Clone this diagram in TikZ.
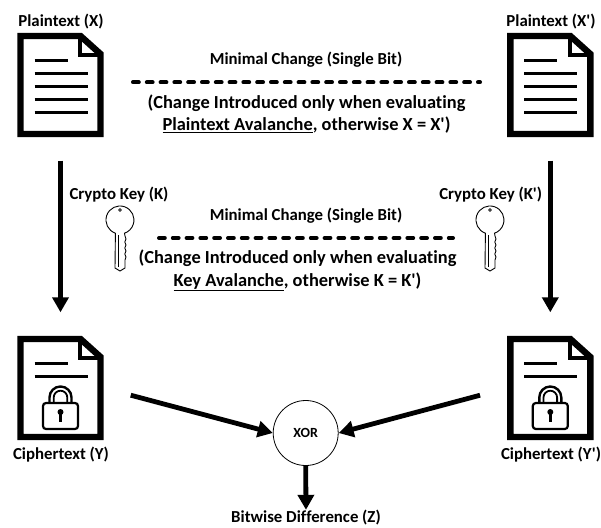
\documentclass[tikz,border=0pt]{standalone}
\usepackage{fontspec}
\setmainfont[Ligatures={TeXOff,NoCommon}]{Carlito}
\usetikzlibrary{arrows.meta}
\tikzset{
  lbl/.style={font=\bfseries\fontsize{16.8}{20}\selectfont,inner sep=0pt,align=center},
  note/.style={font=\bfseries\fontsize{18.4}{22.5}\selectfont,inner sep=0pt,align=center},
  arr/.style={line width=4.8pt,-{Triangle[length=15pt,width=16pt]}},
  dashline/.style={line width=4pt,line cap=round,dash pattern=on 5.8pt off 8pt},
  anchorbox/.style={minimum width=86pt,minimum height=105pt,inner sep=0pt},
  pics/docshell/.style={code={
    \draw[line width=6.4pt,miter limit=10,fill=white] (-40,-49) -- (20,-49) -- (40,-31) -- (40,49) -- (-40,49) -- cycle;
    \draw[line width=3.4pt] (19.5,-49) -- (19.5,-30) -- (40,-30);
    \draw[line width=3pt] (-26,-25) -- (7,-25);
    \draw[line width=3pt] (-26,-12) -- (27,-12);
  }},
  pics/plainbody/.style={code={
    \draw[line width=3pt] (-26,1) -- (27,1);
    \draw[line width=3pt] (-26,14) -- (27,14);
    \draw[line width=3pt] (-26,27.5) -- (27,27.5);
  }},
  pics/lockbody/.style={code={
    \draw[line width=2.4pt] (-11,15) -- (-11,9.5) arc[start angle=180,end angle=360,radius=11] -- (11,15);
    \draw[line width=1.8pt] (-6.8,15) -- (-6.8,9.5) arc[start angle=180,end angle=360,radius=6.8] -- (6.8,15);
    \draw[line width=2.2pt,rounded corners=3pt] (-17.5,15) rectangle (17.5,41);
    \fill (0,24) circle[radius=3];
    \fill (-1.4,25) rectangle (1.4,33.5);
  }},
  pics/cryptokey/.style={code={
    \draw[line width=0.9pt,fill=white] (-4.6,13.2) arc[start angle=109,end angle=431,radius=14]
      -- (5,16) -- (6,19) -- (4.8,22) -- (6,25) -- (4.8,28) -- (6,31) -- (4.8,34) -- (6,37) -- (5,40) -- (5,48) -- (0,51) -- (-5,48) -- cycle;
    \draw[line width=0.7pt] (-1.6,15) -- (-1.6,47);
    \draw[line width=0.8pt] (0,-10) circle[radius=1.4];
  }},
}
\begin{document}
\begin{tikzpicture}[x=1pt,y=-1pt]
\useasboundingbox (0,0) rectangle (601,527);
% document anchors
\node[anchorbox] (docX) at (60.5,85) {};
\node[anchorbox] (docXp) at (550.3,85) {};
\node[anchorbox] (docY) at (60.5,388) {};
\node[anchorbox] (docYp) at (550.3,388) {};
\pic at (60.5,85) {docshell};
\pic at (60.5,85) {plainbody};
\pic at (550.3,85) {docshell};
\pic at (550.3,85) {plainbody};
\pic at (60.5,388) {docshell};
\pic at (60.5,388) {lockbody};
\pic at (550.3,388) {docshell};
\pic at (550.3,388) {lockbody};
% labels
\node[lbl] (lx) at (61,21.5) {Plaintext (X)};
\node[lbl] (lxp) at (551,21.5) {Plaintext (X')};
\node[lbl] (ly) at (61,455) {Ciphertext (Y)};
\node[lbl] (lyp) at (551,455) {Ciphertext (Y')};
\node[lbl] (m1) at (306,60) {Minimal Change (Single Bit)};
\node[lbl] (m2) at (306,216) {Minimal Change (Single Bit)};
\node[note] (n1) at (306.5,114) {(Change Introduced only when evaluating\\\underline{Plaintext Avalanche}, otherwise X = X')};
\node[note] (n2) at (297.5,270.5) {(Change Introduced only when evaluating\\\underline{Key Avalanche}, otherwise K = K')};
\node[lbl] (kl) at (119,195) {Crypto Key (K)};
\node[lbl] (klp) at (490.7,195) {Crypto Key (K')};
% keys
\node[inner sep=0pt,minimum size=1pt] (key1) at (120,220) {};
\node[inner sep=0pt,minimum size=1pt] (key2) at (490,220) {};
\pic at (key1) {cryptokey};
\pic at (key2) {cryptokey};
% dashed
\coordinate (d1a) at (133,82.3); \coordinate (d1b) at (480,82.3);
\coordinate (d2a) at (159,238); \coordinate (d2b) at (453,238);
\draw[dashline] (d1a) -- (d1b);
\draw[dashline] (d2a) -- (d2b);
% xor
\node[draw,circle,line width=0.8pt,minimum size=65pt,inner sep=0pt,font=\bfseries\fontsize{14}{16}\selectfont] (xor) at (305.7,433) {XOR};
\node[lbl] (z) at (306,517.5) {Bitwise Difference (Z)};
% connectors
\draw[arr,shorten <=23pt,shorten >=23pt] (docX.south) -- (docY.north);
\draw[arr,shorten <=23pt,shorten >=23pt] (docXp.south) -- (docYp.north);
\draw[arr,shorten <=28pt] (docY.east) -- (xor.west);
\draw[arr,shorten <=28pt] (docYp.west) -- (xor.east);
\draw[arr] (xor.south) -- (z.north);
\end{tikzpicture}
\end{document}
